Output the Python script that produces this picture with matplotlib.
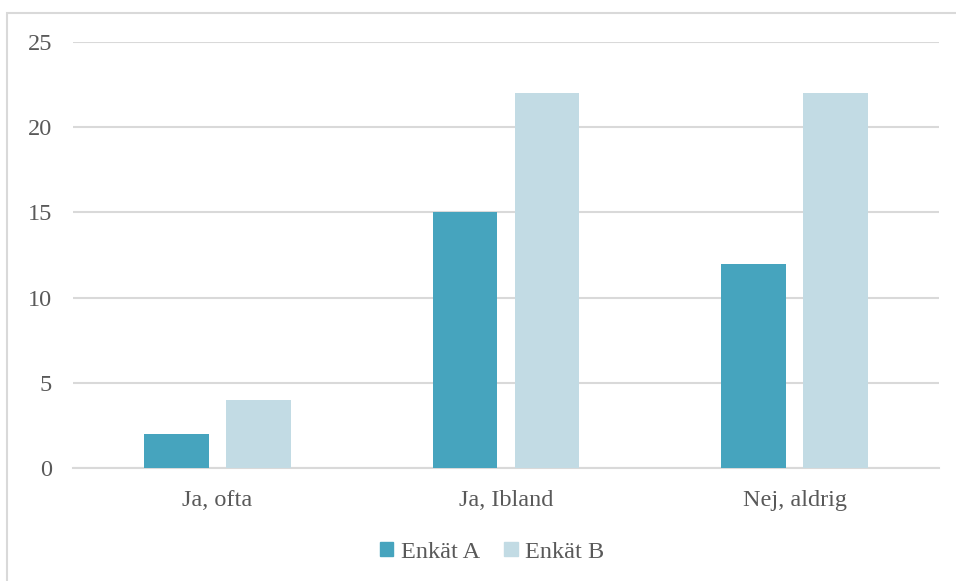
import matplotlib
matplotlib.use("Agg")
import matplotlib.pyplot as plt
from matplotlib.patches import Rectangle, Patch
import numpy as np

categories = ["Ja, ofta", "Ja, Ibland", "Nej, aldrig"]
series_names = ["Enkät A", "Enkät B"]
enkat_a = [2, 15, 12]
enkat_b = [4, 22, 22]
yticks = [0, 5, 10, 15, 20, 25]

col_a = "#46A4BE"
col_b = "#C2DBE4"
grid_col = "#D9D9D9"
text_col = "#595959"

plt.rcParams['font.family'] = ['Liberation Serif', 'DejaVu Serif']

W, H = 956, 581
fig = plt.figure(figsize=(W/100, H/100), dpi=100)

# chart-area border (cropped on right and bottom)
fig.patches.append(Rectangle((7/W, -0.1), 1.2, 1 - 13/H + 0.1, transform=fig.transFigure,
                             fill=False, edgecolor=grid_col, linewidth=1.5, zorder=0))

ax = fig.add_axes([73/W, 113/H, 866/W, 426/H])
x = np.arange(len(categories))
bw = 0.225
off = 0.142
ax.bar(x - off, enkat_a, width=bw, color=col_a, zorder=3, label=series_names[0])
ax.bar(x + off, enkat_b, width=bw, color=col_b, zorder=3, label=series_names[1])

ax.set_xlim(-0.5, 2.5)
ax.set_ylim(0, 25)
ax.set_yticks(yticks)
ax.set_yticklabels([str(v) for v in yticks])
ax.set_xticks(x)
ax.set_xticklabels(categories)
for s in ["top", "right", "left"]:
    ax.spines[s].set_visible(False)
ax.spines["bottom"].set_color(grid_col)
ax.spines["bottom"].set_linewidth(1.5)
ax.yaxis.grid(True, color=grid_col, linewidth=1.5, zorder=0)
ax.set_axisbelow(True)
ax.tick_params(axis="both", length=0, labelsize=17.5, colors=text_col)
ax.tick_params(axis="y", pad=15)
ax.tick_params(axis="x", pad=16)

handles = [Patch(color=col_a), Patch(color=col_b)]
fig.legend(handles, series_names, loc="center", bbox_to_anchor=(492/W, 1 - 552/H),
           ncol=2, frameon=False, fontsize=17.5, labelcolor=text_col,
           handlelength=0.55, handleheight=0.55, handletextpad=0.3, columnspacing=1.0)

fig.savefig("out.png", dpi=100)
